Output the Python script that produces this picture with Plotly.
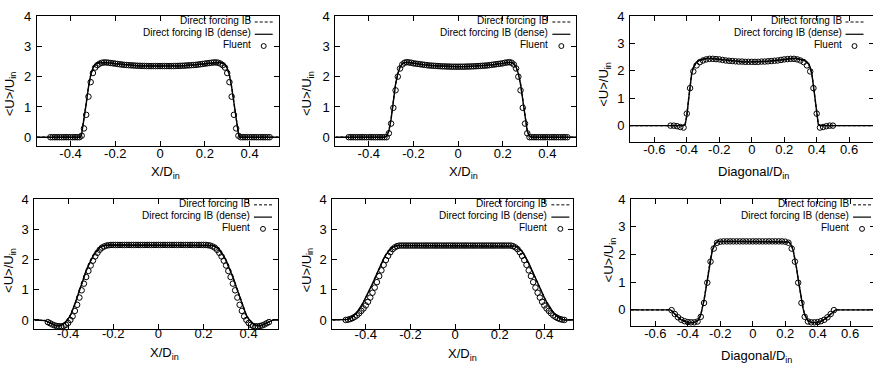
import plotly.graph_objects as go

W, H = 873, 367
FONT = "Liberation Sans, Arial, Helvetica, sans-serif"

# ---------------- data ----------------
# Fluent sample positions (X/D panels: step 0.01 ; diagonal panels: step 0.02)
fluent_x_fine = [-0.49, -0.48, -0.47, -0.46, -0.45, -0.44, -0.43, -0.42, -0.41, -0.40,
                 -0.39, -0.38, -0.37, -0.36, -0.35, -0.34, -0.33, -0.32, -0.31, -0.30,
                 -0.29, -0.28, -0.27, -0.26, -0.25, -0.24, -0.23, -0.22, -0.21, -0.20,
                 -0.19, -0.18, -0.17, -0.16, -0.15, -0.14, -0.13, -0.12, -0.11, -0.10,
                 -0.09, -0.08, -0.07, -0.06, -0.05, -0.04, -0.03, -0.02, -0.01, 0.00,
                 0.01, 0.02, 0.03, 0.04, 0.05, 0.06, 0.07, 0.08, 0.09, 0.10,
                 0.11, 0.12, 0.13, 0.14, 0.15, 0.16, 0.17, 0.18, 0.19, 0.20,
                 0.21, 0.22, 0.23, 0.24, 0.25, 0.26, 0.27, 0.28, 0.29, 0.30,
                 0.31, 0.32, 0.33, 0.34, 0.35, 0.36, 0.37, 0.38, 0.39, 0.40,
                 0.41, 0.42, 0.43, 0.44, 0.45, 0.46, 0.47, 0.48, 0.49]
fluent_x_diag = [-0.50, -0.48, -0.46, -0.44, -0.42, -0.40, -0.38, -0.36, -0.34, -0.32,
                 -0.30, -0.28, -0.26, -0.24, -0.22, -0.20, -0.18, -0.16, -0.14, -0.12,
                 -0.10, -0.08, -0.06, -0.04, -0.02, 0.00, 0.02, 0.04, 0.06, 0.08,
                 0.10, 0.12, 0.14, 0.16, 0.18, 0.20, 0.22, 0.24, 0.26, 0.28,
                 0.30, 0.32, 0.34, 0.36, 0.38, 0.40, 0.42, 0.44, 0.46, 0.48, 0.50]

# Panel 1 (top left, X/D)
fluent_y_1 = [0, 0, 0, 0, 0, 0, 0, 0, 0, 0, 0, 0, 0, 0,
              0.05, 0.29, 0.74, 1.34, 1.82, 2.12, 2.30, 2.38, 2.43, 2.46,
              2.47, 2.47, 2.46, 2.45, 2.44, 2.43, 2.42, 2.41, 2.40, 2.39,
              2.385, 2.38, 2.375, 2.37, 2.365, 2.36, 2.36, 2.355, 2.355, 2.35,
              2.35, 2.35, 2.35, 2.35, 2.35,
              2.35,
              2.35, 2.35, 2.35, 2.35, 2.35, 2.35, 2.355, 2.355, 2.36, 2.36,
              2.365, 2.37, 2.375, 2.38, 2.385, 2.39, 2.40, 2.41, 2.42, 2.43,
              2.44, 2.45, 2.46, 2.47, 2.47, 2.46, 2.43, 2.38, 2.30, 2.12,
              1.82, 1.34, 0.74, 0.29, 0.05,
              0, 0, 0, 0, 0, 0, 0, 0, 0, 0, 0, 0, 0, 0]
line_x_1 = [-0.55, -0.36, -0.355, -0.35, -0.34, -0.33, -0.32, -0.31, -0.30, -0.29, -0.28,
            -0.26, -0.24, -0.20, -0.15, -0.10, -0.05, 0.0, 0.05, 0.10, 0.15, 0.20, 0.24,
            0.26, 0.28, 0.29, 0.30, 0.31, 0.32, 0.33, 0.34, 0.35, 0.355, 0.36, 0.55]
dense_y_1 = [0, 0, 0.0, 0.12, 0.55, 1.10, 1.65, 2.05, 2.28, 2.40, 2.45,
             2.47, 2.47, 2.43, 2.39, 2.36, 2.35, 2.35, 2.35, 2.36, 2.39, 2.43, 2.47,
             2.47, 2.45, 2.40, 2.28, 2.05, 1.65, 1.10, 0.55, 0.12, 0.0, 0, 0]
coarse_y_1 = [0, 0, 0.0, 0.13, 0.57, 1.12, 1.66, 2.05, 2.28, 2.40, 2.45,
              2.47, 2.47, 2.43, 2.39, 2.36, 2.35, 2.35, 2.35, 2.36, 2.39, 2.43, 2.47,
              2.47, 2.45, 2.40, 2.28, 2.05, 1.66, 1.12, 0.57, 0.13, 0.0, 0, 0]

# Panel 2 (top middle, X/D)
fluent_y_2 = [0, 0, 0, 0, 0, 0, 0, 0, 0, 0, 0, 0, 0, 0, 0, 0, 0, 0,
              0.13, 0.45, 0.97, 1.55, 2.00, 2.27, 2.40, 2.46, 2.48, 2.47,
              2.46, 2.44, 2.43, 2.42, 2.41, 2.40, 2.39, 2.38, 2.37, 2.365,
              2.36, 2.355, 2.35, 2.345, 2.34, 2.34, 2.335, 2.335, 2.33, 2.33, 2.33,
              2.33,
              2.33, 2.33, 2.33, 2.335, 2.335, 2.34, 2.34, 2.345, 2.35, 2.355,
              2.36, 2.365, 2.37, 2.38, 2.39, 2.40, 2.41, 2.42, 2.43, 2.44,
              2.46, 2.47, 2.48, 2.46, 2.40, 2.27, 2.00, 1.55, 0.97, 0.45, 0.13,
              0, 0, 0, 0, 0, 0, 0, 0, 0, 0, 0, 0, 0, 0, 0, 0, 0, 0]
line_x_2 = [-0.55, -0.33, -0.32, -0.31, -0.30, -0.29, -0.28, -0.27, -0.26, -0.25, -0.24,
            -0.22, -0.20, -0.15, -0.10, -0.05, 0.0, 0.05, 0.10, 0.15, 0.20, 0.22,
            0.24, 0.25, 0.26, 0.27, 0.28, 0.29, 0.30, 0.31, 0.32, 0.33, 0.55]
dense_y_2 = [0, 0, 0.03, 0.20, 0.60, 1.20, 1.75, 2.10, 2.32, 2.43, 2.47,
             2.47, 2.44, 2.39, 2.36, 2.34, 2.33, 2.34, 2.36, 2.39, 2.44, 2.47,
             2.47, 2.43, 2.32, 2.10, 1.75, 1.20, 0.60, 0.20, 0.03, 0, 0]
coarse_y_2 = [0, 0, 0.03, 0.21, 0.62, 1.22, 1.76, 2.10, 2.32, 2.43, 2.47,
              2.47, 2.44, 2.39, 2.36, 2.34, 2.33, 2.34, 2.36, 2.39, 2.44, 2.47,
              2.47, 2.43, 2.32, 2.10, 1.76, 1.22, 0.62, 0.21, 0.03, 0, 0]

# Panel 3 (top right, diagonal)
fluent_y_3 = [0.0, 0.0, -0.02, -0.05, -0.07, 0.44, 1.37, 1.98, 2.20, 2.32,
              2.38, 2.42, 2.44, 2.44, 2.43, 2.42, 2.40, 2.38, 2.37, 2.36,
              2.35, 2.34, 2.34, 2.33, 2.33,
              2.33,
              2.33, 2.33, 2.34, 2.34, 2.35, 2.36, 2.37, 2.38, 2.40, 2.42,
              2.43, 2.44, 2.44, 2.42, 2.38, 2.32, 2.20, 1.98, 1.37, 0.44,
              -0.07, -0.05, -0.02, 0.0, 0.0]
line_x_3 = [-0.75, -0.42, -0.41, -0.40, -0.39, -0.38, -0.37, -0.36, -0.35, -0.34, -0.32,
            -0.30, -0.28, -0.25, -0.20, -0.15, -0.10, -0.05, 0.0, 0.05, 0.10, 0.15, 0.20,
            0.25, 0.28, 0.30, 0.32, 0.34, 0.35, 0.36, 0.37, 0.38, 0.39, 0.40, 0.41, 0.42, 0.75]
dense_y_3 = [0, 0, 0.05, 0.35, 0.90, 1.45, 1.90, 2.12, 2.25, 2.32, 2.39,
             2.43, 2.45, 2.45, 2.42, 2.38, 2.35, 2.33, 2.33, 2.33, 2.35, 2.38, 2.42,
             2.45, 2.45, 2.43, 2.39, 2.32, 2.25, 2.12, 1.90, 1.45, 0.90, 0.35, 0.05, 0, 0]
coarse_y_3 = [0, 0, 0.06, 0.37, 0.92, 1.46, 1.90, 2.12, 2.25, 2.32, 2.39,
              2.43, 2.45, 2.45, 2.42, 2.38, 2.35, 2.33, 2.33, 2.33, 2.35, 2.38, 2.42,
              2.45, 2.45, 2.43, 2.39, 2.32, 2.25, 2.12, 1.90, 1.46, 0.92, 0.37, 0.06, 0, 0]

# Panel 4 (bottom left, X/D)
fluent_y_4 = [-0.07, -0.11, -0.15, -0.18, -0.20, -0.21, -0.21, -0.20, -0.16, -0.10,
              0.00, 0.12, 0.30, 0.50, 0.74, 0.98, 1.20, 1.42, 1.62, 1.80,
              1.96, 2.10, 2.22, 2.32, 2.39, 2.43, 2.46, 2.47, 2.48,
              2.48, 2.48, 2.48, 2.48, 2.48, 2.48, 2.48, 2.48, 2.48, 2.48,
              2.48, 2.48, 2.48, 2.48, 2.48, 2.48, 2.48, 2.48, 2.48, 2.48,
              2.48, 2.48, 2.48, 2.48, 2.48, 2.48, 2.48, 2.48, 2.48, 2.48,
              2.48, 2.48, 2.48, 2.48, 2.48, 2.48, 2.48, 2.48, 2.48, 2.48, 2.48,
              2.48, 2.47, 2.46, 2.43, 2.39, 2.32, 2.22, 2.10, 1.96,
              1.80, 1.62, 1.42, 1.20, 0.98, 0.74, 0.50, 0.30, 0.12, 0.00,
              -0.10, -0.16, -0.20, -0.21, -0.21, -0.20, -0.18, -0.15, -0.11, -0.07]
line_x_4 = [-0.55, -0.51, -0.50, -0.49, -0.48, -0.47, -0.46, -0.45, -0.44, -0.43, -0.42,
            -0.41, -0.40, -0.39, -0.38, -0.37, -0.36, -0.35, -0.34, -0.33, -0.32, -0.31,
            -0.30, -0.29, -0.28, -0.27, -0.26, -0.25, -0.24, -0.22, -0.20, -0.10, 0.0,
            0.10, 0.20, 0.22, 0.24, 0.25, 0.26, 0.27, 0.28, 0.29, 0.30, 0.31, 0.32, 0.33,
            0.34, 0.35, 0.36, 0.37, 0.38, 0.39, 0.40, 0.41, 0.42, 0.43, 0.44, 0.45, 0.46,
            0.47, 0.48, 0.49, 0.50, 0.51, 0.55]
dense_y_4 = [0, 0, -0.02, -0.06, -0.11, -0.15, -0.18, -0.20, -0.20, -0.18, -0.13,
             -0.06, 0.03, 0.15, 0.32, 0.52, 0.75, 0.98, 1.20, 1.42, 1.62, 1.80,
             1.96, 2.10, 2.22, 2.32, 2.39, 2.43, 2.46, 2.48, 2.48, 2.48, 2.48,
             2.48, 2.48, 2.48, 2.46, 2.43, 2.39, 2.32, 2.22, 2.10, 1.96, 1.80, 1.62, 1.42,
             1.20, 0.98, 0.75, 0.52, 0.32, 0.15, 0.03, -0.06, -0.13, -0.18, -0.20, -0.20, -0.18,
             -0.15, -0.11, -0.06, -0.02, 0, 0]
coarse_y_4 = [0, 0, -0.02, -0.06, -0.10, -0.14, -0.17, -0.19, -0.19, -0.17, -0.12,
              -0.05, 0.04, 0.16, 0.33, 0.53, 0.76, 0.99, 1.21, 1.43, 1.63, 1.81,
              1.97, 2.11, 2.23, 2.33, 2.40, 2.44, 2.46, 2.48, 2.48, 2.48, 2.48,
              2.48, 2.48, 2.48, 2.46, 2.44, 2.40, 2.33, 2.23, 2.11, 1.97, 1.81, 1.63, 1.43,
              1.21, 0.99, 0.76, 0.53, 0.33, 0.16, 0.04, -0.05, -0.12, -0.17, -0.19, -0.19, -0.17,
              -0.14, -0.10, -0.06, -0.02, 0, 0]

# Panel 5 (bottom middle, X/D)
fluent_y_5 = [0.00, 0.01, 0.03, 0.06, 0.10, 0.15, 0.22, 0.30, 0.38, 0.48,
              0.60, 0.74, 0.90, 1.07, 1.25, 1.45, 1.64, 1.82, 1.98, 2.12,
              2.24, 2.34, 2.40, 2.44, 2.46, 2.46, 2.46, 2.46,
              2.46, 2.46, 2.46, 2.46, 2.46, 2.46, 2.46, 2.46, 2.46, 2.46,
              2.46, 2.46, 2.46, 2.46, 2.46, 2.46, 2.46, 2.46, 2.46, 2.46,
              2.46, 2.46, 2.46, 2.46, 2.46, 2.46, 2.46, 2.46, 2.46, 2.46,
              2.46, 2.46, 2.46, 2.46, 2.46, 2.46, 2.46, 2.46, 2.46, 2.46,
              2.46, 2.46, 2.46,
              2.46, 2.46, 2.46, 2.46, 2.44, 2.40, 2.34, 2.24,
              2.12, 1.98, 1.82, 1.64, 1.45, 1.25, 1.07, 0.90, 0.74, 0.60,
              0.48, 0.38, 0.30, 0.22, 0.15, 0.10, 0.06, 0.03, 0.01, 0.00]
line_x_5 = [-0.55, -0.49, -0.48, -0.47, -0.46, -0.45, -0.44, -0.43, -0.42, -0.41, -0.40,
            -0.39, -0.38, -0.37, -0.36, -0.35, -0.34, -0.33, -0.32, -0.31, -0.30, -0.29,
            -0.28, -0.27, -0.26, -0.25, -0.24,
            -0.22, -0.10, 0.0, 0.10, 0.22,
            0.24, 0.25, 0.26, 0.27, 0.28,
            0.29, 0.30, 0.31, 0.32, 0.33, 0.34, 0.35, 0.36, 0.37, 0.38, 0.39,
            0.40, 0.41, 0.42, 0.43, 0.44, 0.45, 0.46, 0.47, 0.48, 0.49, 0.55]
dense_y_5 = [0, 0, 0.02, 0.05, 0.10, 0.17, 0.25, 0.35, 0.47, 0.60, 0.74,
             0.88, 1.03, 1.20, 1.37, 1.55, 1.72, 1.88, 2.03, 2.16, 2.27, 2.35,
             2.41, 2.44, 2.46, 2.46, 2.46,
             2.46, 2.46, 2.46, 2.46, 2.46,
             2.46, 2.46, 2.46, 2.44, 2.41,
             2.35, 2.27, 2.16, 2.03, 1.88, 1.72, 1.55, 1.37, 1.20, 1.03, 0.88,
             0.74, 0.60, 0.47, 0.35, 0.25, 0.17, 0.10, 0.05, 0.02, 0, 0]
coarse_y_5 = [0, 0, 0.02, 0.05, 0.09, 0.16, 0.24, 0.34, 0.46, 0.59, 0.73,
              0.87, 1.02, 1.19, 1.36, 1.54, 1.71, 1.87, 2.02, 2.15, 2.26, 2.35,
              2.41, 2.44, 2.46, 2.46, 2.46,
              2.46, 2.46, 2.46, 2.46, 2.46,
              2.46, 2.46, 2.46, 2.44, 2.41,
              2.35, 2.26, 2.15, 2.02, 1.87, 1.71, 1.54, 1.36, 1.19, 1.02, 0.87,
              0.73, 0.59, 0.46, 0.34, 0.24, 0.16, 0.09, 0.05, 0.02, 0, 0]

# Panel 6 (bottom right, diagonal)
fluent_y_6 = [-0.01, -0.15, -0.27, -0.36, -0.41, -0.44, -0.45, -0.45, -0.42, -0.25,
              0.25, 0.98, 1.74, 2.21, 2.42, 2.46,
              2.47, 2.47, 2.47, 2.47, 2.47, 2.47, 2.47, 2.47, 2.47, 2.47,
              2.47, 2.47, 2.47, 2.47, 2.47, 2.47, 2.47, 2.47, 2.47,
              2.46, 2.42, 2.21, 1.74, 0.98, 0.25,
              -0.25, -0.42, -0.45, -0.45, -0.44, -0.41, -0.36, -0.27, -0.15, -0.01]
line_x_6 = [-0.75, -0.51, -0.50, -0.48, -0.46, -0.44, -0.42, -0.40, -0.38, -0.36, -0.34,
            -0.33, -0.32, -0.31, -0.30, -0.29, -0.28, -0.27, -0.26, -0.25, -0.24, -0.23,
            -0.22, -0.21, -0.20, -0.10, 0.0, 0.10, 0.20, 0.21, 0.22, 0.23, 0.24, 0.25,
            0.26, 0.27, 0.28, 0.29, 0.30, 0.31, 0.32, 0.33, 0.34, 0.36, 0.38, 0.40, 0.42,
            0.44, 0.46, 0.48, 0.50, 0.51, 0.75]
dense_y_6 = [0, 0, -0.03, -0.16, -0.27, -0.36, -0.42, -0.46, -0.47, -0.46, -0.40,
             -0.32, -0.18, 0.05, 0.35, 0.70, 1.10, 1.50, 1.85, 2.12, 2.30, 2.40,
             2.45, 2.47, 2.47, 2.47, 2.47, 2.47, 2.47, 2.47, 2.45, 2.40, 2.30, 2.12,
             1.85, 1.50, 1.10, 0.70, 0.35, 0.05, -0.18, -0.32, -0.40, -0.46, -0.47, -0.46, -0.42,
             -0.36, -0.27, -0.16, -0.03, 0, 0]
coarse_y_6 = [0, 0, -0.03, -0.15, -0.26, -0.35, -0.41, -0.45, -0.46, -0.45, -0.39,
              -0.31, -0.17, 0.06, 0.36, 0.71, 1.11, 1.51, 1.86, 2.12, 2.30, 2.40,
              2.45, 2.47, 2.47, 2.47, 2.47, 2.47, 2.47, 2.47, 2.45, 2.40, 2.30, 2.12,
              1.86, 1.51, 1.11, 0.71, 0.36, 0.06, -0.17, -0.31, -0.39, -0.45, -0.46, -0.45, -0.41,
              -0.35, -0.26, -0.15, -0.03, 0, 0]

xd_ticks = [-0.4, -0.2, 0, 0.2, 0.4]
xd_ticktext = ["-0.4", "-0.2", "0", "0.2", "0.4"]
diag_ticks = [-0.6, -0.4, -0.2, 0, 0.2, 0.4, 0.6]
diag_ticktext = ["-0.6", "-0.4", "-0.2", "0", "0.2", "0.4", "0.6"]
y_ticks = [0, 1, 2, 3, 4]
y_ticktext = ["0", "1", "2", "3", "4"]

legend_names = ["Direct forcing IB", "Direct forcing IB (dense)", "Fluent"]
xlabel_xd = "X/D<sub>in</sub>"
xlabel_diag = "Diagonal/D<sub>in</sub>"
ylabel = "&lt;U&gt;/U<sub>in</sub>"

# ---------------- layout (pixel frames) ----------------
# The source image is cropped at its right edge: the diagonal panels' right border
# lies just outside the 873 px window, so the figure is a little wider than the window.
FW = 876
panels = [
    dict(fx=fluent_x_fine, fy=fluent_y_1, lx=line_x_1, dy=dense_y_1, cy=coarse_y_1,
         frame=(37, 279, 9.3, 142), xr=(-0.55, 0.53), yr=(-0.3, 4), diag=False,
         xt=(166, 169), yt=(10, 88), stand=-5, key_r=279),
    dict(fx=fluent_x_fine, fy=fluent_y_2, lx=line_x_2, dy=dense_y_2, cy=coarse_y_2,
         frame=(335.7, 577, 9.3, 142), xr=(-0.55, 0.53), yr=(-0.3, 4), diag=False,
         xt=(464, 169), yt=(308, 88), stand=-5, key_r=577),
    dict(fx=fluent_x_diag, fy=fluent_y_3, lx=line_x_3, dy=dense_y_3, cy=coarse_y_3,
         frame=(630.7, 874.5, 9.3, 137.7), xr=(-0.75, 0.75), yr=(-0.6, 4), diag=True,
         xt=(754, 169), yt=(605, 79), stand=-5, key_r=870.5),
    dict(fx=fluent_x_fine, fy=fluent_y_4, lx=line_x_4, dy=dense_y_4, cy=coarse_y_4,
         frame=(34.3, 278.3, 195.7, 328.3), xr=(-0.55, 0.53), yr=(-0.3, 4), diag=False,
         xt=(165, 353.5), yt=(10, 268), stand=-8, key_r=278.3),
    dict(fx=fluent_x_fine, fy=fluent_y_5, lx=line_x_5, dy=dense_y_5, cy=coarse_y_5,
         frame=(332.7, 574, 195.7, 328.3), xr=(-0.55, 0.53), yr=(-0.3, 4), diag=False,
         xt=(463, 354.5), yt=(308, 268), stand=-7, key_r=576),
    dict(fx=fluent_x_diag, fy=fluent_y_6, lx=line_x_6, dy=dense_y_6, cy=coarse_y_6,
         frame=(631.7, 875.5, 195.7, 325.7), xr=(-0.75, 0.75), yr=(-0.6, 4), diag=True,
         xt=(757, 356), yt=(610, 258), stand=-5, key_r=878),
]

for p in panels:
    assert len(p["fx"]) == len(p["fy"]), (len(p["fx"]), len(p["fy"]))
    assert len(p["lx"]) == len(p["dy"]) == len(p["cy"]), (len(p["lx"]), len(p["dy"]), len(p["cy"]))


def px(x):
    return x / FW


def py(y):
    return 1 - y / H


fig = go.Figure()
layout = dict(width=FW, height=H, autosize=False, margin=dict(l=0, r=0, t=0, b=0, pad=0),
              paper_bgcolor="white", plot_bgcolor="white", showlegend=False)
annotations = []
shapes = []
TICKFONT = dict(family=FONT, size=13, color="black")

for i, p in enumerate(panels):
    n = i + 1
    xa = "x" if n == 1 else f"x{n}"
    ya = "y" if n == 1 else f"y{n}"
    l, r, t, b = p["frame"]
    common = dict(showline=True, linecolor="black", linewidth=1, mirror="allticks",
                  ticks="inside", ticklen=5, tickwidth=1, tickcolor="black",
                  showgrid=False, zeroline=False, tickfont=TICKFONT)
    layout[f"xaxis{'' if n == 1 else n}"] = dict(
        domain=[px(l), px(r)], range=list(p["xr"]), anchor=ya,
        tickvals=diag_ticks if p["diag"] else xd_ticks,
        ticktext=diag_ticktext if p["diag"] else xd_ticktext,
        ticklabelstandoff=p["stand"], **common)
    layout[f"yaxis{'' if n == 1 else n}"] = dict(
        domain=[py(b), py(t)], range=list(p["yr"]), anchor=xa,
        tickvals=y_ticks, ticktext=y_ticktext, ticklabelstandoff=2, **common)

    fig.add_trace(go.Scatter(x=p["lx"], y=p["cy"], mode="lines", xaxis=xa, yaxis=ya,
                             line=dict(color="black", width=1.3, dash="3px,2px"),
                             name=legend_names[0]))
    fig.add_trace(go.Scatter(x=p["lx"], y=p["dy"], mode="lines", xaxis=xa, yaxis=ya,
                             line=dict(color="black", width=1.4), name=legend_names[1]))
    fig.add_trace(go.Scatter(x=p["fx"], y=p["fy"], mode="markers", xaxis=xa, yaxis=ya,
                             marker=dict(symbol="circle-open", size=5.5,
                                         color="black", line=dict(width=1, color="black")),
                             name=legend_names[2], cliponaxis=False))

    # axis titles
    annotations.append(dict(xref="paper", yref="paper", x=px(p["xt"][0]), y=py(p["xt"][1]),
                            xanchor="center", yanchor="middle", showarrow=False,
                            text=xlabel_diag if p["diag"] else xlabel_xd,
                            font=dict(family=FONT, size=13, color="black")))
    annotations.append(dict(xref="paper", yref="paper", x=px(p["yt"][0]), y=py(p["yt"][1]),
                            xanchor="center", yanchor="middle", showarrow=False,
                            textangle=-90, text=ylabel,
                            font=dict(family=FONT, size=13, color="black")))
    # in-plot key (gnuplot style: text right-aligned, sample to the right)
    kr = p["key_r"]
    rows = [t + 4.5, t + 17.0, t + 29.0]
    for k, name in enumerate(legend_names):
        annotations.append(dict(xref="paper", yref="paper", x=px(kr - 26), y=py(rows[k]),
                                xanchor="right", yanchor="middle", showarrow=False,
                                text=name, font=dict(family=FONT, size=10, color="black")))
    ry = [rows[0] + 1.5, rows[1] + 1.5, rows[2] + 1.5]
    shapes.append(dict(type="line", xref="paper", yref="paper",
                       x0=px(kr - 24), x1=px(kr - 6), y0=py(ry[0]), y1=py(ry[0]),
                       line=dict(color="black", width=1, dash="3px,2px")))
    shapes.append(dict(type="line", xref="paper", yref="paper",
                       x0=px(kr - 24), x1=px(kr - 6), y0=py(ry[1]), y1=py(ry[1]),
                       line=dict(color="black", width=1.2)))
    shapes.append(dict(type="circle", xref="paper", yref="paper",
                       x0=px(kr - 17.5), x1=px(kr - 12.5), y0=py(ry[2] + 2.5), y1=py(ry[2] - 2.5),
                       line=dict(color="black", width=1)))

layout["annotations"] = annotations
layout["shapes"] = shapes
fig.update_layout(**layout)
fig.write_html("out.html", config={"displayModeBar": False},
               post_script="document.body.style.margin='0';document.body.style.overflow='hidden';")
